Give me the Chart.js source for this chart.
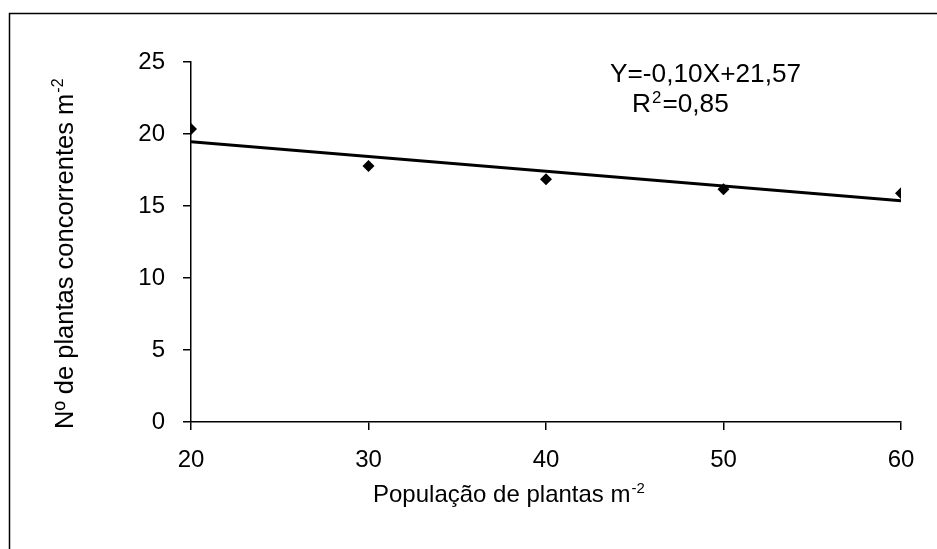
<!DOCTYPE html>
<html>
<head>
<meta charset="utf-8">
<script src="https://cdn.jsdelivr.net/npm/chart.js@4.4.0/dist/chart.umd.min.js"></script>
<style>
  body { margin: 0; background: #fff; }
  #wrap { width: 937px; height: 549px; }
</style>
</head>
<body>
<div id="wrap"><canvas id="chart" width="937" height="549"></canvas></div>
<script>
let populacao = [20, 30, 40, 50, 60];
let concorrentes = [20.35, 17.78, 16.85, 16.16, 15.88];
let trendX = [20, 60];
let trendY = [19.47, 15.37];
let xTicks = [20, 30, 40, 50, 60];
let yTicks = [0, 5, 10, 15, 20, 25];

let FONT = "'Liberation Sans', Arial, sans-serif";

// titles with superscripts, equation and outer frame
let extras = {
    id: 'extras',
    beforeDraw(chart) {
        let c = chart.ctx;
        c.save();
        c.fillStyle = '#fff';
        c.fillRect(0, 0, chart.width, chart.height);
        c.strokeStyle = '#000';
        c.lineWidth = 1.5;
        c.strokeRect(9.5, 13.5, 940, 560);
        c.restore();
    },
    afterDraw(chart) {
        let c = chart.ctx;
        c.save();
        c.fillStyle = '#000';
        c.textBaseline = 'alphabetic';
        c.textAlign = 'left';

        // base text + raised small text, optional horizontal stretch
        let supText = (base, sup, x, y, size, sx, tail) => {
            c.save();
            c.translate(x, y);
            c.scale(sx, 1);
            c.font = size + 'px ' + FONT;
            c.fillText(base, 0, 0);
            let w = c.measureText(base).width;
            c.font = Math.round(size * 0.62) + 'px ' + FONT;
            c.fillText(sup, w + 1, -size * 0.38);
            if (tail) {
                let w2 = c.measureText(sup).width;
                c.font = size + 'px ' + FONT;
                c.fillText(tail, w + w2 + 2, 0);
            }
            c.restore();
        };

        // x axis title
        supText('População de plantas m', '-2', 373, 502, 24, 1);

        // y axis title
        c.save();
        c.translate(73, 429);
        c.rotate(-Math.PI / 2);
        supText('Nº de plantas concorrentes m', '-2', 0, 0, 25.5, 1);
        c.restore();

        // regression equation
        c.save();
        c.translate(610, 82);
        c.scale(1.05, 1);
        c.font = '25px ' + FONT;
        c.fillText('Y=-0,10X+21,57', 0, 0);
        c.restore();
        supText('R', '2', 632, 112, 25, 1.05, '=0,85');
        c.restore();
    }
};

let axisStyle = {
    grid: { drawOnChartArea: false, drawTicks: true, tickLength: 8, color: '#000', lineWidth: 1.5 },
    border: { display: true, color: '#000', width: 1.5 }
};

new Chart(document.getElementById('chart').getContext('2d'), {
    type: 'scatter',
    data: {
        datasets: [{
            label: 'Observado',
            data: populacao.map((x, i) => ({ x: x, y: concorrentes[i] })),
            pointStyle: 'rectRot',
            pointRadius: 6,
            backgroundColor: '#000',
            borderColor: '#000',
            borderWidth: 0,
            order: 1
        }, {
            label: 'Tendência',
            type: 'line',
            data: trendX.map((x, i) => ({ x: x, y: trendY[i] })),
            borderColor: '#000',
            borderWidth: 3,
            pointRadius: 0,
            fill: false,
            order: 2
        }]
    },
    options: {
        responsive: false,
        animation: false,
        layout: { padding: { top: 62, right: 36, left: 0, bottom: 0 } },
        plugins: { legend: { display: false }, tooltip: { enabled: false } },
        scales: {
            x: {
                type: 'linear',
                min: 20, max: 60,
                afterBuildTicks: s => { s.ticks = xTicks.map(v => ({ value: v })); },
                afterFit: s => { s.height = 127; },
                ticks: { color: '#000', font: { family: FONT, size: 24 }, padding: 16, maxRotation: 0 },
                ...axisStyle
            },
            y: {
                min: 0, max: 25,
                afterBuildTicks: s => { s.ticks = yTicks.map(v => ({ value: v })); },
                afterFit: s => { s.width = 191; },
                ticks: { color: '#000', font: { family: FONT, size: 24 }, padding: 18 },
                ...axisStyle
            }
        }
    },
    plugins: [extras]
});
</script>
</body>
</html>
